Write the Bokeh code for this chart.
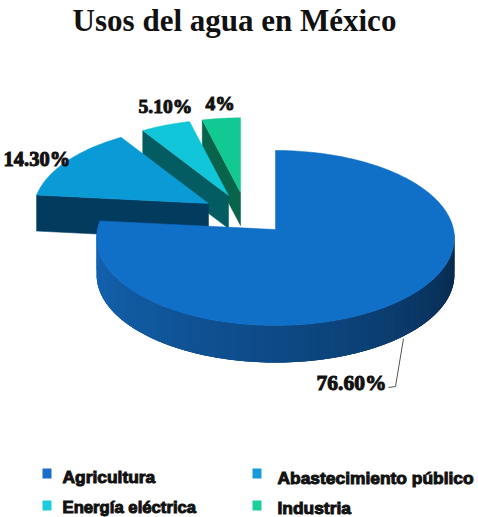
import numpy as np
from bokeh.embed import file_html
from bokeh.models import Range1d
from bokeh.plotting import figure
from bokeh.resources import INLINE
from bokeh.core.properties import value

# Water use shares in Mexico (percent)
categories = ["Agricultura", "Abastecimiento público", "Energía eléctrica", "Industria"]
shares = [76.6, 14.3, 5.1, 4.0]
share_labels = ["76.60%", "14.30%", "5.10%", "4%"]
title = "Usos del agua en México"

# Slice styling and layout on the 478x517 canvas
top_colors = ["#106fc6", "#0a9bd6", "#11c6d8", "#13c993"]
face_colors = [None, "#013b5e", "#035c62", "#07634a"]
swatch_colors = ["#1a6ecb", "#149ad8", "#1ccbdc", "#1bcf9d"]
apex_x = [275, 208, 228, 240]
apex_y = [229, 203, 195, 192]
radius_scale = [1.0, 0.98, 0.96, 0.94]
depths = [37, 36, 33, 33]
label_x = [316, 3, 138, 205]
label_y = [382, 158, 106, 103]
label_sizes = ["21.5px", "20.5px", "19.5px", "19.5px"]
legend_swatch_x = [42, 252, 42, 252]
legend_swatch_y = [468, 468, 500, 500]
legend_text_x = [62, 277, 62, 277]
legend_text_y = [476, 477, 507, 507]
legend_sizes = ["17.4px", "17.4px", "16.7px", "17.4px"]
wall_stops = [0.0, 0.35, 0.7, 1.0]
wall_colors = [(7, 38, 70), (12, 66, 120), (17, 88, 158), (21, 104, 184)]

RX, RY, PERSP = 178.0, 86.7, 0.097


def project(theta_deg, scale):
    """Clockwise angle from 12 o'clock to an offset on the tilted, foreshortened disc."""
    t = np.radians(theta_deg)
    u, v = np.sin(t) * scale, -np.cos(t) * scale
    w = 1 - PERSP * v
    return RX * u / w, RY * v / w


p = figure(width=478, height=517, output_backend="svg", toolbar_location=None,
           x_range=Range1d(0, 478), y_range=Range1d(517, 0),
           min_border=0, outline_line_color=None, background_fill_color="white")
p.axis.visible = False
p.grid.visible = False

starts = np.concatenate([[0], np.cumsum(shares)[:-1]]) * 3.6
ends = np.cumsum(shares) * 3.6

# Exploded slices are painted back to front, the large one last
for i in [3, 2, 1]:
    dx, dy = project(starts[i], radius_scale[i])
    ax, ay = apex_x[i], apex_y[i]
    d = depths[i]
    p.patch([ax, ax + dx, ax + dx, ax], [ay, ay + dy, ay + dy + d, ay + d],
            fill_color=face_colors[i], line_color=face_colors[i], line_width=0.5)
    th = np.linspace(starts[i], ends[i], 40)
    xs, ys = project(th, radius_scale[i])
    p.patch(np.r_[ax, ax + xs], np.r_[ay, ay + ys],
            fill_color=top_colors[i], line_color=top_colors[i], line_width=0.5)

# Outer wall of the main slice, shaded from right (dark) to left (light);
# each band runs under the next one so no seams show
ax, ay = apex_x[0], apex_y[0]
d = depths[0]
edges = np.linspace(90, ends[0], 91)
for j in range(len(edges) - 1):
    a = edges[j]
    b = edges[min(j + 3, len(edges) - 1)]
    th = np.linspace(a, b, 6)
    x, y = project(th, 1.0)
    f = (a - 90) / (ends[0] - 90)
    rgb = [int(np.interp(f, wall_stops, [c[k] for c in wall_colors])) for k in range(3)]
    col = "#%02x%02x%02x" % tuple(rgb)
    p.patch(np.r_[ax + x, (ax + x)[::-1]], np.r_[ay + y, (ay + y + d)[::-1]],
            fill_color=col, line_color=None)

th = np.linspace(starts[0], ends[0], 240)
xs, ys = project(th, 1.0)
p.patch(np.r_[ax, ax + xs], np.r_[ay, ay + ys],
        fill_color=top_colors[0], line_color=top_colors[0], line_width=0.5)

# Leader line for the largest slice
p.line([403, 395, 388], [338, 386, 387], line_color="#555555", line_width=1)

p.text([234], [20], text=[title], text_font=value("Liberation Serif"), text_font_style="bold",
       text_font_size="31px", text_align="center", text_baseline="middle", text_color="#111111")

p.text(label_x, label_y, text=share_labels, text_font=value("Liberation Serif"),
       text_font_style="bold", text_font_size=label_sizes, text_baseline="middle",
       text_color="#111111", text_outline_color="#111111")

p.rect([x + 4.5 for x in legend_swatch_x], [y + 5 for y in legend_swatch_y], width=9, height=10,
       fill_color=swatch_colors, line_color=None)
p.text(legend_text_x, legend_text_y, text=categories, text_font=value("Liberation Sans"),
       text_font_style="bold", text_font_size=legend_sizes, text_baseline="middle",
       text_color="#111111", text_outline_color="#111111")

open("out.html", "w").write(file_html(p, INLINE))
